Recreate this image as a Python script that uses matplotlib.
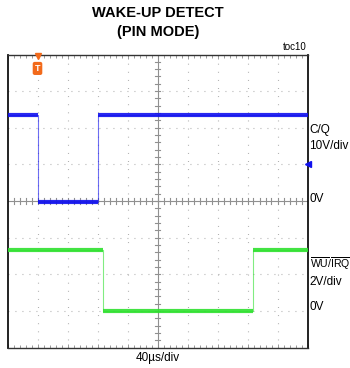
import matplotlib
matplotlib.use("Agg")
import matplotlib.pyplot as plt
import numpy as np

plt.rcParams['font.family'] = ['Liberation Sans', 'DejaVu Sans']
plt.rcParams['mathtext.fontset'] = 'custom'
plt.rcParams['mathtext.rm'] = 'Liberation Sans'
plt.rcParams['mathtext.it'] = 'Liberation Sans:italic'
plt.rcParams['mathtext.bf'] = 'Liberation Sans:bold'

# Time base and channel settings
time_per_div = 40.0          # µs/div
cq_volts_per_div = 10.0      # C/Q channel
wu_volts_per_div = 2.0       # WU/IRQ channel
cq_offset_div = 0.0
wu_offset_div = -3.0

# C/Q trace (µs, V)
cq_time = [0, 40, 40, 120, 120, 400]
cq_volts = [23.6, 23.6, -0.2, -0.2, 23.6, 23.6]

# WU/IRQ trace (µs, V)
wu_time = [0, 127, 127, 328, 328, 400]
wu_volts = [3.3, 3.3, 0.0, 0.0, 3.3, 3.3]

trigger_time = 40.0

BLUE = '#1010ee'
GREEN = '#2ee02e'
ORANGE = '#f26a1b'
GRID = '#a8a8a8'

fig = plt.figure(figsize=(3.5, 3.68), dpi=100)
W, H = 350, 368
ax = fig.add_axes([7.5 / W, (H - 347.5) / H, 300 / W, 293 / H])
ax.set_xlim(0, 10)
ax.set_ylim(-4, 4)


def to_div(t, v, vdiv, off):
    return np.asarray(t) / time_per_div, np.asarray(v) / vdiv + off


# graticule: dotted division lines
for x in range(1, 10):
    if x != 5:
        ax.axvline(x, color=GRID, lw=0.8, ls=(0, (0.8, 6.5)), zorder=1)
for y in range(-3, 4):
    if y != 0:
        ax.axhline(y, color=GRID, lw=0.8, ls=(0, (0.8, 5.5)), zorder=1)
# center axes with minor ticks
ax.axvline(5, color='#909090', lw=0.8, zorder=1)
ax.axhline(0, color='#909090', lw=0.8, zorder=1)
for x in np.arange(0.2, 10, 0.2):
    ax.plot([x, x], [-0.08, 0.08], color='#909090', lw=0.8, zorder=1)
for y in np.arange(-3.8, 4, 0.2):
    ax.plot([4.93, 5.07], [y, y], color='#909090', lw=0.8, zorder=1)

# edge ticks along top and bottom
ax.set_xticks(np.arange(0, 10.01, 1))
ax.set_xticks(np.arange(0, 10.01, 0.2), minor=True)
ax.set_yticks([])
ax.tick_params(which='both', direction='in', top=True, bottom=True,
               labelbottom=False, labelleft=False, color='#8a8a8a')
ax.tick_params(which='major', length=3, width=0.6)
ax.tick_params(which='minor', length=2.2, width=0.6)
for side, s in ax.spines.items():
    s.set_color('#111111' if side in ('left', 'right') else '#333333')
    s.set_linewidth(1.3 if side in ('left', 'right') else 1.0)

# traces: thin step plus thick noisy-looking plateau
for t, v, vd, off, c in [(cq_time, cq_volts, cq_volts_per_div, cq_offset_div, BLUE),
                         (wu_time, wu_volts, wu_volts_per_div, wu_offset_div, GREEN)]:
    xs, ys = to_div(t, v, vd, off)
    ax.plot(xs, ys, color=c, lw=0.8, alpha=0.6, zorder=3)
    for i in range(0, len(xs) - 1, 2):
        ax.plot(xs[i:i + 2], ys[i:i + 2], color=c, lw=3.0, alpha=0.9,
                solid_capstyle='butt', zorder=3)

# channel level marker on right edge
ax.plot([10], [1.0], marker='<', color=BLUE, ms=4, clip_on=False, zorder=5)

# trigger marker
tx = trigger_time / time_per_div
ax.plot([tx], [3.97], marker='v', color=ORANGE, ms=4, clip_on=False, zorder=5)
ax.text(tx, 3.62, 'T', color='white', fontsize=6.5, fontweight='bold',
        ha='center', va='center', zorder=6,
        bbox=dict(boxstyle='round,pad=0.15', fc=ORANGE, ec=ORANGE))

# titles and labels
fig.text(158 / W, 1 - 13 / H, 'WAKE-UP DETECT', ha='center', va='center',
         fontsize=10.5, fontweight='bold')
fig.text(158 / W, 1 - 32 / H, '(PIN MODE)', ha='center', va='center',
         fontsize=10.5, fontweight='bold')
fig.text(307 / W, 1 - 47 / H, 'toc10', ha='right', va='center', fontsize=7)
fig.text(158 / W, 1 - 358 / H, '40µs/div', ha='center', va='center', fontsize=8.5)

lx = 309.5 / W
fig.text(lx, 1 - 130 / H, 'C/Q', ha='left', va='center', fontsize=8.5)
fig.text(lx, 1 - 146 / H, '10V/div', ha='left', va='center', fontsize=8.5)
fig.text(lx, 1 - 199 / H, '0V', ha='left', va='center', fontsize=8.5)
fig.text(lx, 1 - 264 / H, r'$\overline{\mathrm{WU}}\mathrm{/}\overline{\mathrm{IRQ}}$',
         ha='left', va='center', fontsize=7.6)
fig.text(lx, 1 - 282 / H, '2V/div', ha='left', va='center', fontsize=8.5)
fig.text(lx, 1 - 307 / H, '0V', ha='left', va='center', fontsize=8.5)

fig.savefig('out.png', dpi=100)
